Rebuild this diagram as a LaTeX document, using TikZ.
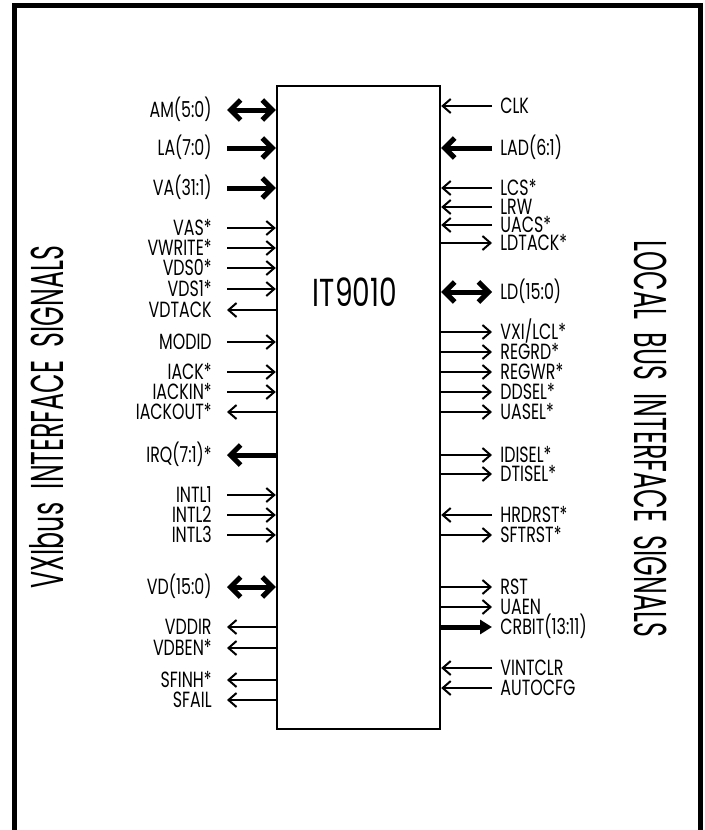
\documentclass[tikz,border=0pt]{standalone}
\usepackage{fontspec}
\setmainfont{Poppins}[FakeStretch=0.72]
\newfontfamily\chipfont{Poppins}[FakeStretch=0.72]
\newfontfamily\sidefont{Poppins}[FakeStretch=0.55]
\usetikzlibrary{arrows.meta}

\begin{document}
\begin{tikzpicture}[x=0.5pt,y=-0.5pt,
    wire/.style={line width=1pt},
    thickwire/.style={line width=2.5pt},
    sigin/.style={wire,-{Straight Barb[length=4pt,width=7pt]}},
    sigout/.style={wire,{Straight Barb[length=4pt,width=7pt]}-},
    busin/.style={thickwire,-{Straight Barb[length=5pt,width=10pt]}},
    busout/.style={thickwire,{Straight Barb[length=5pt,width=10pt]}-},
    busbi/.style={thickwire,{Straight Barb[length=5pt,width=10pt]}-{Straight Barb[length=5pt,width=10pt]}},
    busfill/.style={thickwire,{Triangle[length=6pt,width=7pt]}-},
    sig/.style={font=\fontsize{11}{13}\selectfont,inner ysep=0pt,text height=7.7pt,text depth=0pt},
    lpin/.style={sig,anchor=east,inner xsep=7.5pt},
    rpin/.style={sig,anchor=west,inner xsep=4pt},
    side/.style={font=\sidefont\fontsize{23}{26}\selectfont}]
  \useasboundingbox (0,0) rectangle (705,830);

  % outer frame, open at the bottom
  \draw[line width=2.5pt] (14.5,840) -- (14.5,5.5) -- (700,5.5) -- (700,840);

  \node[draw,line width=1.2pt,minimum width=81.5pt,minimum height=321.5pt] (chip) at (358.5,407.5) {};
  \node[font=\chipfont\fontsize{19.5}{22}\selectfont] (name) at (355,292) {IT9010};

  \node[side,rotate=90] (vxi) at (47,417) {VXIbus~~INTERFACE~~SIGNALS};
  \node[side,rotate=-90] (local) at (651,439) {LOCAL~~BUS~~INTERFACE~~SIGNALS};

  % VXIbus side
  \foreach \y/\txt/\kind [count=\i] in {110/AM(5:0)/busbi, 148/LA(7:0)/busin,
      188/VA(31:1)/busin, 228/VAS*/sigin, 248/VWRITE*/sigin, 268/VDS0*/sigin,
      289/VDS1*/sigin, 310/VDTACK/sigout, 342/MODID/sigin, 372/IACK*/sigin,
      392/IACKIN*/sigin, 412/IACKOUT*/sigout, 455/IRQ(7:1)*/busout,
      495/INTL1/sigin, 515/INTL2/sigin, 535/INTL3/sigin, 587/VD(15:0)/busbi,
      627/VDDIR/sigout, 648/VDBEN*/sigout, 680/SFINH*/sigout, 700/SFAIL/sigout}
  {
    \node[lpin] (L\i) at (227,\y) {\txt};
    \path (L\i) edge[\kind] (L\i -| chip.west);
  }

  % local bus side
  \foreach \y/\txt/\kind [count=\i] in {106/CLK/sigin, 148/LAD(6:1)/busin,
      188/LCS*/sigin, 207/LRW/sigin, 225/UACS*/sigin, 243/LDTACK*/sigout,
      292/LD(15:0)/busbi, 332/{VXI/LCL*}/sigout, 352/REGRD*/sigout,
      372/REGWR*/sigout, 392/DDSEL*/sigout, 412/UASEL*/sigout,
      455/IDISEL*/sigout, 474/DTISEL*/sigout, 515/HRDRST*/sigin,
      535/SFTRST*/sigout, 587/RST/sigout, 607/UAEN/sigout,
      627/CRBIT(13:11)/busfill, 668/VINTCLR/sigin, 688/AUTOCFG/sigin}
  {
    \node[rpin] (R\i) at (492,\y) {\txt};
    \path (R\i) edge[\kind] (R\i -| chip.east);
  }
\end{tikzpicture}
\end{document}
